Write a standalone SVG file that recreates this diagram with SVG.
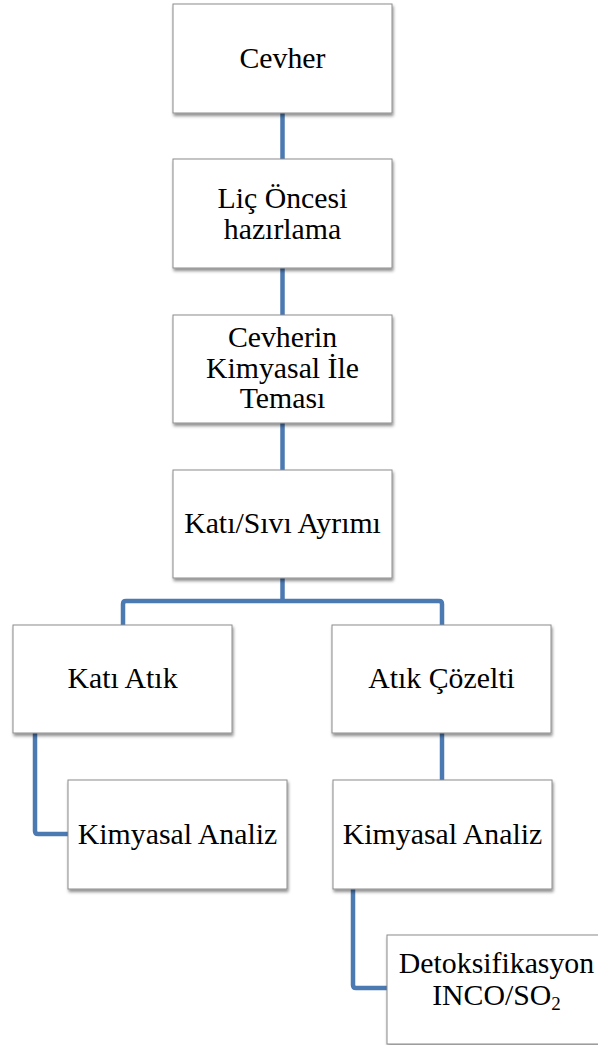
<svg xmlns="http://www.w3.org/2000/svg" width="598" height="1045" viewBox="0 0 598 1045">
  <style>
    .box { fill: #ffffff; stroke: #8c8c8c; stroke-width: 1; filter: url(#shadow); }
    .label { font-family: "Liberation Serif", "Times New Roman", serif; font-size: 29.8px; fill: #000000; text-anchor: middle; }
    .link { fill: none; stroke: #4b79b1; stroke-width: 4.5; stroke-linejoin: round; }
  </style>
  <defs>
    <filter id="shadow" x="-10%" y="-10%" width="125%" height="130%">
      <feDropShadow dx="1" dy="2.5" stdDeviation="1.6" flood-color="#000000" flood-opacity="0.45"/>
    </filter>
  </defs>
  <rect width="598" height="1045" fill="#ffffff"/>

  <!-- connectors -->
  <g id="connectors">
    <line class="link" x1="282.5" y1="113" x2="282.5" y2="159"/>
    <line class="link" x1="282.5" y1="268" x2="282.5" y2="315"/>
    <line class="link" x1="282.5" y1="423" x2="282.5" y2="470"/>
    <path class="link" d="M282.5 578 V601"/>
    <path class="link" d="M123 625 V604 Q123 601 126 601 H439 Q442 601 442 604 V625"/>
    <path class="link" d="M35 733 V831 Q35 834 38 834 H68"/>
    <line class="link" x1="442" y1="733" x2="442" y2="780"/>
    <path class="link" d="M353 889 V985 Q353 988 356 988 H387"/>
  </g>

  <g id="cevher">
    <rect class="box" x="173" y="4" width="219" height="109"/>
    <text class="label" x="282.5" y="68">Cevher</text>
  </g>

  <g id="lic-oncesi">
    <rect class="box" x="173" y="159" width="219" height="109"/>
    <text class="label" x="282.5" y="208">Liç Öncesi</text>
    <text class="label" x="282.5" y="238.5">hazırlama</text>
  </g>

  <g id="kimyasal-temas">
    <rect class="box" x="173" y="315" width="219" height="108"/>
    <text class="label" x="282.5" y="347">Cevherin</text>
    <text class="label" x="282.5" y="377.5">Kimyasal İle</text>
    <text class="label" x="282.5" y="408">Teması</text>
  </g>

  <g id="kati-sivi">
    <rect class="box" x="173" y="470" width="219" height="108"/>
    <text class="label" x="282.5" y="533">Katı/Sıvı Ayrımı</text>
  </g>

  <g id="kati-atik">
    <rect class="box" x="13" y="625" width="219" height="108"/>
    <text class="label" x="122.5" y="688">Katı Atık</text>
  </g>

  <g id="atik-cozelti">
    <rect class="box" x="332" y="625" width="219" height="108"/>
    <text class="label" x="441.5" y="688">Atık Çözelti</text>
  </g>

  <g id="analiz-kati">
    <rect class="box" x="68" y="780" width="219" height="109"/>
    <text class="label" x="177.5" y="844">Kimyasal Analiz</text>
  </g>

  <g id="analiz-cozelti">
    <rect class="box" x="333" y="780" width="219" height="109"/>
    <text class="label" x="442.5" y="844">Kimyasal Analiz</text>
  </g>

  <g id="detoksifikasyon">
    <rect class="box" x="387" y="935" width="219" height="109"/>
    <text class="label" x="496.5" y="973">Detoksifikasyon</text>
    <text class="label" x="496.5" y="1005">INCO/SO<tspan font-size="19" dy="5">2</tspan></text>
  </g>
</svg>
